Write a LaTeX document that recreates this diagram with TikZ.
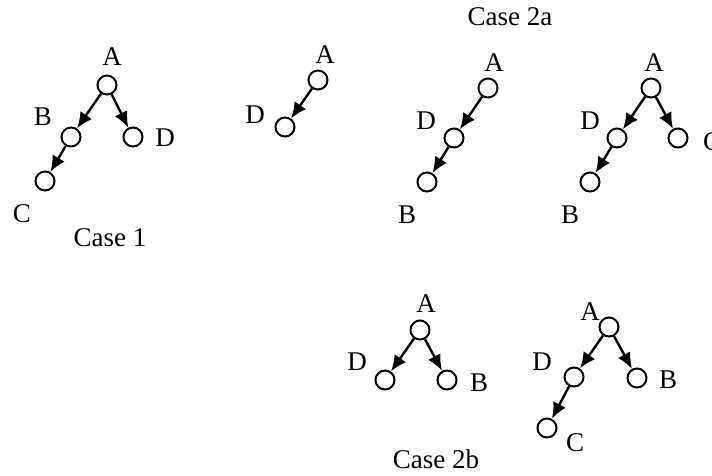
\documentclass[tikz,border=0pt]{standalone}
\usepackage{fontspec}
\setmainfont{Liberation Serif}
\usetikzlibrary{arrows.meta}
\begin{document}
\begin{tikzpicture}[x=1pt,y=-1pt,
  vert/.style={circle,draw,line width=2pt,minimum size=19pt,inner sep=0pt},
  lbl/.style={inner sep=0pt,font=\fontsize{27}{29}\selectfont},
  arr/.style={line width=2.4pt,-{Latex[length=16pt,width=14pt]}}]
\useasboundingbox (0,0) rectangle (712,475);
\clip (0,0) rectangle (712,475);
% Case 1
\node[vert] (aA) at (107,85) {};
\node[vert] (aB) at (71,137) {};
\node[vert] (aD) at (133,137) {};
\node[vert] (aC) at (45,181) {};
\node[lbl] (aAl) at (112,57) {A};
\node[lbl] (aBl) at (43,117) {B};
\node[lbl] (aDl) at (165,138) {D};
\node[lbl] (aCl) at (22,214) {C};
\node[lbl] (case1) at (110,238) {Case 1};
\draw[arr] (aA) -- (aB);
\draw[arr] (aA) -- (aD);
\draw[arr] (aB) -- (aC);
% Case 2a title
\node[lbl] (case2a) at (510,17) {Case 2a};
% Case 2a tree 1
\node[vert] (bA) at (318,80) {};
\node[vert] (bD) at (285,127) {};
\node[lbl] (bAl) at (325,55) {A};
\node[lbl] (bDl) at (255,115) {D};
\draw[arr] (bA) -- (bD);
% Case 2a tree 2
\node[vert] (cA) at (488,88) {};
\node[vert] (cD) at (454,138) {};
\node[vert] (cB) at (427,182) {};
\node[lbl] (cAl) at (494,63) {A};
\node[lbl] (cDl) at (426,121) {D};
\node[lbl] (cBl) at (407,215) {B};
\draw[arr] (cA) -- (cD);
\draw[arr] (cD) -- (cB);
% Case 2a tree 3
\node[vert] (dA) at (651,88) {};
\node[vert] (dD) at (617,138) {};
\node[vert] (dC) at (678,138) {};
\node[vert] (dB) at (590,182) {};
\node[lbl] (dAl) at (654,63) {A};
\node[lbl] (dDl) at (590,121) {D};
\node[lbl] (dBl) at (570,215) {B};
\node[lbl,anchor=west] (dCl) at (703,142) {C};
\draw[arr] (dA) -- (dD);
\draw[arr] (dA) -- (dC);
\draw[arr] (dD) -- (dB);
% Case 2b tree 1
\node[vert] (eA) at (420,330) {};
\node[vert] (eD) at (385,380) {};
\node[vert] (eB) at (447,380) {};
\node[lbl] (eAl) at (426,304) {A};
\node[lbl] (eDl) at (357,362) {D};
\node[lbl] (eBl) at (479,383) {B};
\draw[arr] (eA) -- (eD);
\draw[arr] (eA) -- (eB);
% Case 2b tree 2
\node[vert] (fA) at (609,327) {};
\node[vert] (fD) at (574,377) {};
\node[vert] (fB) at (637,378) {};
\node[vert] (fC) at (547,428) {};
\node[lbl] (fAl) at (590,312) {A};
\node[lbl] (fDl) at (542,362) {D};
\node[lbl] (fBl) at (668,380) {B};
\node[lbl] (fCl) at (575,443) {C};
\draw[arr] (fA) -- (fD);
\draw[arr] (fA) -- (fB);
\draw[arr] (fD) -- (fC);
\node[lbl] (case2b) at (436,459) {Case 2b};
\end{tikzpicture}
\end{document}
